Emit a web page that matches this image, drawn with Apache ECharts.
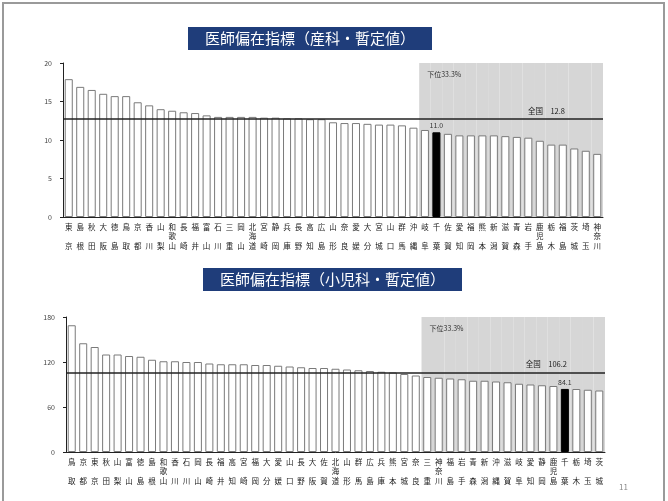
<!DOCTYPE html>
<html>
<head>
<meta charset="utf-8">
<script src="https://cdn.jsdelivr.net/npm/echarts@6/dist/echarts.min.js"></script>
<style>
  html, body { margin: 0; padding: 0; background: #fff; }
  #main { width: 668px; height: 501px; }
</style>
</head>
<body>
<div id="main"></div>
<script>
// 産科
var prefA = ['東京','島根','秋田','大阪','徳島','鳥取','京都','香川','山梨','和歌山','長崎','福井','富山','石川','三重','岡山','北海道',
  '宮崎','静岡','兵庫','長野','高知','広島','山形','奈良','愛媛','大分','宮城','山口','群馬','沖縄','岐阜','千葉','佐賀','愛知',
  '福岡','熊本','新潟','滋賀','青森','岩手','鹿児島','栃木','福島','茨城','埼玉','神奈川'];
var valA = [17.9,16.9,16.5,16.0,15.7,15.7,14.9,14.5,14.0,13.8,13.6,13.5,13.2,13.0,13.0,13.0,13.0,
  12.9,12.9,12.8,12.8,12.7,12.7,12.3,12.2,12.2,12.1,12.0,12.0,11.9,11.6,11.3,11.0,10.8,10.6,
  10.6,10.6,10.6,10.5,10.4,10.3,9.9,9.4,9.4,8.9,8.6,8.2];
var avgA = 12.8;
var ticksA = { max: 20, interval: 5 };

// 小児科
var prefB = ['鳥取','京都','東京','秋田','山梨','富山','徳島','島根','和歌山','香川','石川','岡山','長崎','福井','高知','宮崎',
  '福岡','大分','愛媛','山口','長野','大阪','佐賀','北海道','山形','群馬','広島','兵庫','熊本','宮城','奈良','三重',
  '神奈川','福島','岩手','青森','新潟','沖縄','滋賀','岐阜','愛知','静岡','鹿児島','千葉','栃木','埼玉','茨城'];
var valB = [169,145,140,130,130,128,127,123,121,121,120,120,118,117,117,117,
  116,116,115,114,113,112,112,111,110,109,108,107,106,104,102,100,
  99,98,97,95,95,94,93,91,90,89,88,84.1,84,83,82];
var avgB = 106.2;
var ticksB = { max: 180, interval: 60 };

var target = '千葉';
var lowerCount = 16;   // 下位33.3%
var FONT = '"Noto Sans CJK JP", "Noto Sans", sans-serif';

var myChart = echarts.init(document.getElementById('main'));

function vert(n) {
    if (n.length === 2) return n[0] + '\n\n' + n[1];
    return n.split('').join('\n');
}

function barData(names, vals) {
    return vals.map(function (v, i) {
        if (names[i] === target) {
            return {
                value: v,
                itemStyle: { color: '#000', borderColor: '#000' },
                label: { show: true, position: 'top', distance: 3, formatter: v.toFixed(1),
                    fontSize: 7, color: '#333', fontFamily: FONT }
            };
        }
        return v;
    });
}

function shadeData(names, max) {
    var start = names.length - lowerCount;
    return names.map(function (n, i) {
        if (i < start) return '-';
        if (i === start) {
            return {
                value: max,
                label: { show: true, position: 'insideTopLeft', distance: 8, formatter: '下位33.3%',
                    fontSize: 7, color: '#333', fontFamily: FONT }
            };
        }
        return max;
    });
}

function xCat(grid, names, show) {
    return {
        type: 'category', gridIndex: grid, data: names, show: show,
        position: show ? 'bottom' : 'top',
        boundaryGap: true,
        axisLine: { lineStyle: { color: '#222', width: 1 } },
        axisTick: { show: false },
        axisLabel: {
            interval: 0, formatter: vert, fontSize: 7.5, lineHeight: 9.5,
            color: '#222', margin: 5, fontFamily: FONT
        }
    };
}

function yVal(grid, t) {
    return {
        type: 'value', gridIndex: grid, min: 0, max: t.max, interval: t.interval,
        axisLine: { show: true, lineStyle: { color: '#222', width: 1 } },
        axisTick: { show: true, length: 3, lineStyle: { color: '#222' } },
        axisLabel: { fontSize: 7, color: '#444', margin: 11, fontFamily: FONT },
        splitLine: { show: false }
    };
}

function avgLine(avg) {
    return {
        silent: true, symbol: 'none',
        lineStyle: { color: '#222', width: 1.5, type: 'solid' },
        label: {
            position: 'insideEndTop', distance: [38, 4],
            formatter: '全国　' + avg.toFixed(1),
            fontSize: 7.5, color: '#222', fontFamily: FONT
        },
        data: [{ yAxis: avg }]
    };
}

function titleBox(text, left, top) {
    return {
        text: text, left: left, top: top,
        backgroundColor: '#1f3d7a',
        padding: [4, 17, 4, 17],
        textStyle: { color: '#fff', fontSize: 15, fontWeight: 'normal', fontFamily: FONT }
    };
}

var option = {
    animation: false,
    title: [
        titleBox('医師偏在指標（産科・暫定値）', 188, 27),
        titleBox('医師偏在指標（小児科・暫定値）', 203, 268)
    ],
    grid: [
        { left: 63, right: 65, top: 63, bottom: 284 },
        { left: 66, right: 63, top: 317, bottom: 49 }
    ],
    xAxis: [
        xCat(0, prefA, true), xCat(0, prefA, false),
        xCat(1, prefB, true), xCat(1, prefB, false)
    ],
    yAxis: [yVal(0, ticksA), yVal(1, ticksB)],
    graphic: [
        { type: 'rect', shape: { x: 3, y: 3, width: 661, height: 520 },
          style: { fill: null, stroke: '#9a9a9a', lineWidth: 2 }, z: -10 },
        { type: 'text', left: 619, top: 483,
          style: { text: '11', fill: '#888', fontSize: 8, fontFamily: FONT } }
    ],
    series: [
        {
            type: 'bar', xAxisIndex: 1, yAxisIndex: 0, silent: true, z: 1,
            barWidth: '100%', itemStyle: { color: '#d6d6d6' },
            data: shadeData(prefA, ticksA.max)
        },
        {
            name: '産科', type: 'bar', xAxisIndex: 0, yAxisIndex: 0, z: 2,
            barWidth: '70%',
            itemStyle: { color: '#fff', borderColor: '#7a7a7a', borderWidth: 1 },
            data: barData(prefA, valA),
            markLine: avgLine(avgA)
        },
        {
            type: 'bar', xAxisIndex: 3, yAxisIndex: 1, silent: true, z: 1,
            barWidth: '100%', itemStyle: { color: '#d6d6d6' },
            data: shadeData(prefB, ticksB.max)
        },
        {
            name: '小児科', type: 'bar', xAxisIndex: 2, yAxisIndex: 1, z: 2,
            barWidth: '70%',
            itemStyle: { color: '#fff', borderColor: '#7a7a7a', borderWidth: 1 },
            data: barData(prefB, valB),
            markLine: avgLine(avgB)
        }
    ]
};
myChart.setOption(option);
</script>
</body>
</html>
